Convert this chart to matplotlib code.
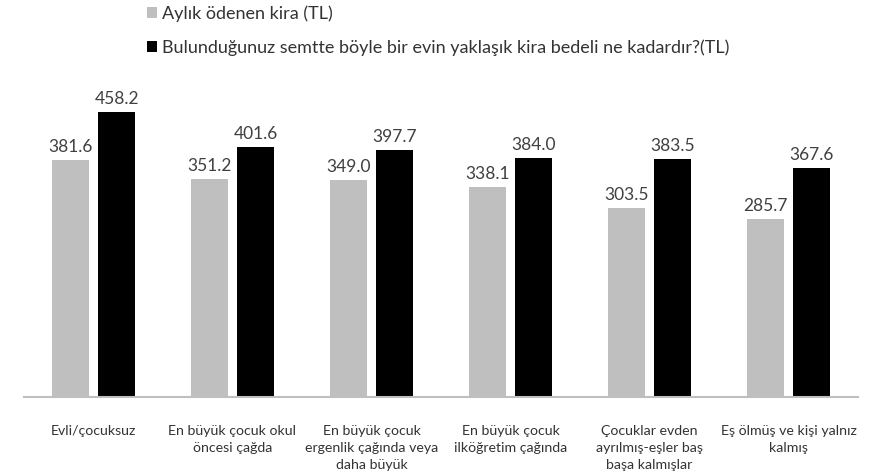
import numpy as np
import matplotlib.pyplot as plt

plt.rcParams['font.family'] = ['Lato', 'DejaVu Sans']

categories = ['Evli/çocuksuz',
              'En büyük çocuk okul\nöncesi çağda',
              'En büyük çocuk\nergenlik çağında veya\ndaha büyük',
              'En büyük çocuk\nilköğretim çağında',
              'Çocuklar evden\nayrılmış-eşler baş\nbaşa kalmışlar',
              'Eş ölmüş ve kişi yalnız\nkalmış']
kira = [381.6, 351.2, 349.0, 338.1, 303.5, 285.7]
tahmini = [458.2, 401.6, 397.7, 384.0, 383.5, 367.6]
labels = ['Aylık ödenen kira (TL)',
          'Bulunduğunuz semtte böyle bir evin yaklaşık kira bedeli ne kadardır?(TL)']

fig = plt.figure(figsize=(8.72, 4.76), dpi=100)
ax = fig.add_axes([0.0275, 0.166, 0.9565, 0.653])

x = np.arange(len(categories))
w = 0.265
b1 = ax.bar(x - 0.168, kira, w, color='#bfbfbf', label=labels[0])
b2 = ax.bar(x + 0.168, tahmini, w, color='#000000', label=labels[1])

for bars in (b1, b2):
    for r in bars:
        ax.text(r.get_x() + r.get_width() / 2, r.get_height() + 8,
                f'{r.get_height():.1f}', ha='center', va='bottom',
                fontsize=12.5, color='#404040')

ax.set_xlim(-0.5, len(categories) - 0.5)
ax.set_ylim(0, 500)
ax.set_yticks([])
ax.set_xticks(x)
ax.set_xticklabels(categories, fontsize=10.2, color='#333333', linespacing=1.5)
ax.tick_params(axis='x', length=0, pad=20)
for s in ['top', 'right', 'left']:
    ax.spines[s].set_visible(False)
ax.spines['bottom'].set_color('#bfbfbf')
ax.spines['bottom'].set_linewidth(1.5)

fig.legend(handles=[b1, b2], labels=labels, loc='upper left',
           bbox_to_anchor=(147 / 872, 1 - 5 / 476), frameon=False, fontsize=13,
           borderpad=0, borderaxespad=0,
           handlelength=0.55, handleheight=0.55, handletextpad=0.3,
           labelspacing=1.0, labelcolor='#333333')

fig.savefig('out.png', dpi=100)
